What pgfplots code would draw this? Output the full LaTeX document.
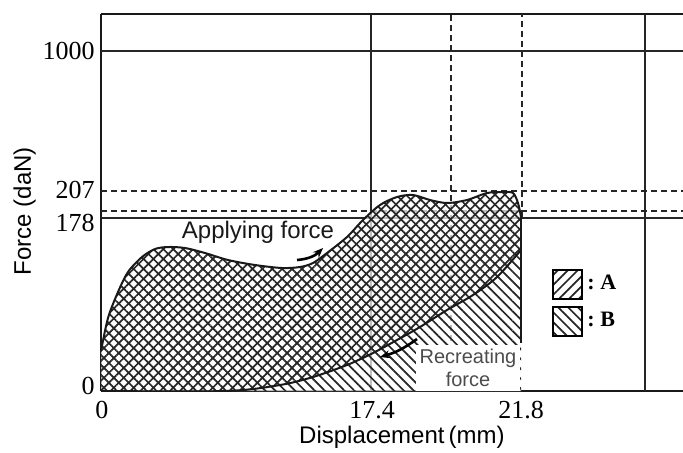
\documentclass[border=0pt]{standalone}
\usepackage{pgfplots}
\pgfplotsset{compat=1.18}
\usepackage{pgfplotstable}
\usepgfplotslibrary{fillbetween}
\usetikzlibrary{patterns.meta,arrows.meta}
\usepackage{fontspec}
\setmainfont{Liberation Serif}
\setsansfont{Liberation Sans}

% schematic axes: units are picture pixels, tick labels carry the real values
\pgfplotstableread{
x y
0 40
7 73
17 99
27 119
41 134
54 142
67 144
84 143
104 138
127 131
154 126
181 123
199 124
212 128
226 138
246 154
262 171
279 186
296 194
312 196
329 191
346 188
366 191
386 198
402 199
412 198
417 188
420 174
}\applying

\pgfplotstableread{
x y
0 0
125 0
179 6
212 14
246 26
272 38
296 51
319 64
346 81
372 96
396 114
420 141
}\recreating

\tikzset{
  hatchA/.style={pattern={Lines[angle=45,distance=3.5pt,line width=0.85pt]},pattern color=black!85},
  hatchB/.style={pattern={Lines[angle=-45,distance=3.5pt,line width=0.85pt]},pattern color=black!85},
}

\begin{document}
\begin{tikzpicture}
\begin{axis}[
  x=0.5pt, y=0.5pt,
  xmin=0, xmax=582, ymin=0, ymax=377,
  axis x line=box, axis y line=left,
  axis line style={-, line width=1pt, black!90},
  xtick={1,271,420}, xticklabels={0,17.4,21.8},
  ytick={5,168,201,340}, yticklabels={0,178,207,1000},
  major tick length=0pt,
  ticklabel style={font=\fontsize{13}{15}\selectfont},
  xticklabel style={anchor=center, inner sep=0pt, yshift=-9.5pt},
  yticklabel style={anchor=east, inner sep=0pt, xshift=-3pt},
  xlabel={Displacement\,(mm)}, ylabel={Force (daN)},
  label style={font=\sffamily\fontsize{12}{14}\selectfont},
  xlabel style={at={(axis description cs:0.517,-0.122)}, anchor=center},
  ylabel style={at={(axis description cs:-0.131,0.477)}, anchor=center},
  legend style={at={(axis description cs:0.775,0.326)}, anchor=north west,
    draw=none, fill=none, inner sep=0pt, row sep=3pt,
    font=\bfseries\fontsize{11}{13}\selectfont},
  legend cell align=left,
  legend image code/.code={\draw[line width=1pt] (0pt,-7.25pt) rectangle (14.5pt,7.25pt);},
  fill between/on layer=main,
]
\addlegendimage{hatchA}
\addlegendentry{:\ A}
\addlegendimage{hatchB}
\addlegendentry{:\ B}

% grid lines
\draw[line width=0.6pt, black!85] (axis cs:0,340) -- (axis cs:582,340);
\draw[line width=0.6pt, black!85] (axis cs:0,173) -- (axis cs:582,173);
\draw[line width=0.6pt, black!85, dash pattern=on 3pt off 2pt] (axis cs:0,200) -- (axis cs:582,200);
\draw[line width=0.6pt, black!85, dash pattern=on 3pt off 2pt] (axis cs:0,180) -- (axis cs:582,180);
\draw[line width=0.6pt, black!85] (axis cs:270,0) -- (axis cs:270,377);
\draw[line width=0.6pt, black!85] (axis cs:544,0) -- (axis cs:544,377);
\draw[line width=0.6pt, black!85, dash pattern=on 3pt off 2pt] (axis cs:350,0) -- (axis cs:350,377);
\draw[line width=0.6pt, black!85, dash pattern=on 3pt off 2pt] (axis cs:421,174) -- (axis cs:421,377);

% lines behind the hatched area show only faintly
\addplot[fill=white, fill opacity=0.7, draw=none, smooth, forget plot] table {\applying} \closedcycle;
% B: whole area under the applying force curve
\addplot[hatchB, draw=none, smooth, forget plot] table {\applying} \closedcycle;
% A: area between applying and recreating force
\addplot[draw=none, smooth, name path=upper, forget plot] table {\applying};
\addplot[draw=none, smooth, name path=lower, forget plot] table {\recreating};
\addplot[hatchA, forget plot] fill between[of=upper and lower];

% outlines
\addplot[smooth, line width=1pt, black!90, forget plot] table {\applying};
\addplot[smooth, line width=1pt, black!90, forget plot] table {\recreating};
\addplot[line width=1pt, black!90, forget plot] coordinates {(420,174) (420,48)};

\node[font=\sffamily\fontsize{12}{14}\selectfont, text=black!90] at (axis cs:157,159) {Applying force};
\node[fill=white, inner sep=2pt, align=center, text=black!70,
  font=\sffamily\fontsize{10}{11.5}\selectfont] at (axis cs:367,23) {Recreating\\force};
\draw[line width=1.3pt, -{Stealth[length=5pt,width=4pt]}] (axis cs:196,131) to[bend right=20] (axis cs:222,143);
\draw[line width=1.3pt, -{Stealth[length=5pt,width=4pt]}] (axis cs:316,52) to[bend left=10] (axis cs:279,34);

\coordinate (BL) at (axis cs:-101,-61);
\coordinate (TR) at (axis cs:582,391);
\end{axis}
\pgfresetboundingbox
\path[use as bounding box] (BL) rectangle (TR);
\end{tikzpicture}
\end{document}
